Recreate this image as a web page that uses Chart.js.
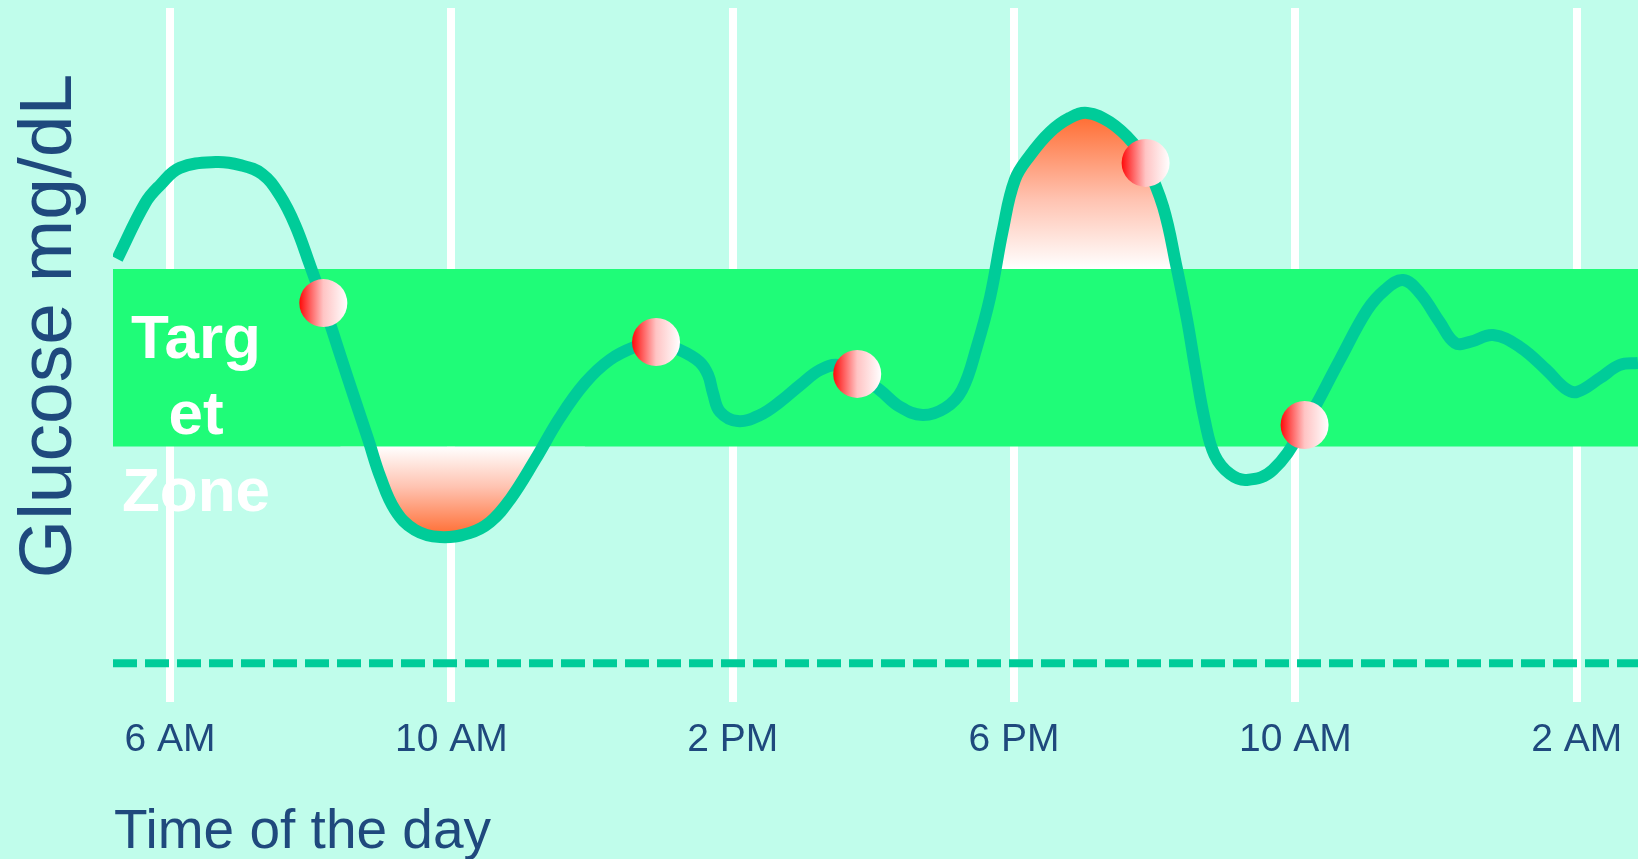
<!DOCTYPE html>
<html>
<head>
<meta charset="utf-8">
<title>Glucose over the day</title>
<script src="https://cdn.jsdelivr.net/npm/chart.js@4.4.1/dist/chart.umd.min.js"></script>
<style>
  html, body { margin: 0; padding: 0; background: #c0fdeb; }
  canvas { display: block; }
</style>
</head>
<body>
<canvas id="glucose" width="1638" height="859"></canvas>
<script>
// Clock hours (6 = 6 AM ... 26 = 2 AM next day) and glucose readings in mg/dL
const times = [
  5.25, 5.65, 5.86, 6.14, 6.65, 7.00, 7.31, 7.56, 7.78, 7.99,
  8.18, 8.42, 8.63, 8.82, 8.99, 9.20, 9.48, 9.84, 10.26, 10.55,
  10.83, 11.19, 11.54, 11.90, 12.25, 12.61, 12.91, 13.25, 13.53, 13.65,
  13.72, 13.82, 14.07, 14.39, 14.67, 14.96, 15.24, 15.50, 15.77, 16.09,
  16.38, 16.70, 17.02, 17.26, 17.47, 17.66, 17.84, 18.01, 18.23, 18.51,
  18.79, 19.04, 19.36, 19.69, 19.87, 20.12, 20.31, 20.46, 20.58, 20.71,
  20.85, 21.07, 21.31, 21.68, 22.13, 22.63, 23.02, 23.27, 23.53, 23.77,
  24.05, 24.27, 24.48, 24.81, 25.19, 25.57, 25.83, 26.00, 26.33, 26.61,
  26.87
];
const glucose = [
  159.6, 179.8, 186.2, 192.4, 194.5, 193.4, 190.2, 182.6, 171.8, 157.4,
  143.7, 125.0, 108.8, 94.4, 81.1, 69.2, 62.0, 59.4, 60.9, 64.8,
  72.8, 87.2, 102.3, 114.9, 123.2, 127.9, 129.7, 126.8, 122.5, 117.8,
  111.3, 104.5, 101.2, 103.4, 108.1, 114.2, 119.6, 121.4, 118.2, 112.4,
  106.3, 103.4, 105.9, 112.4, 127.9, 145.9, 170.0, 188.0, 197.0, 205.3,
  210.4, 212.2, 208.9, 201.4, 194.2, 178.3, 156.7, 137.6, 119.6, 101.6,
  89.0, 82.1, 80.0, 83.6, 99.8, 123.2, 141.2, 148.4, 152.0, 147.3,
  136.9, 129.3, 129.7, 132.2, 127.9, 119.6, 113.1, 111.7, 116.7, 121.4,
  122.1
];

// Readings highlighted with a dot
const dotTimes = [8.18, 12.91, 15.77, 19.87, 22.13];
const dotGlucose = [143.7, 129.7, 118.2, 194.2, 99.8];

// Target zone and the low reference line
const targetLow = 92;
const targetHigh = 156;
const lowLine = 14;

// Excursions outside the target zone that get shaded
const lowSpan = [8.42, 11.90];
const highSpan = [17.26, 20.58];

// Time axis
const tickHours = [6, 10, 14, 18, 22, 26];
const tickLabels = ['6 AM', '10 AM', '2 PM', '6 PM', '10 AM', '2 AM'];
const xMin = 5.19;
const xMax = 26.87;

const zoneLabel = ['Targ', 'et', 'Zone'];

const INK = '#1f497d';
const CURVE = '#00cc99';
const FONT = '"Liberation Sans", Arial, sans-serif';

const points = times.map((t, i) => ({ x: t, y: glucose[i] }));
const inSpan = (span) => points.filter(p => p.x >= span[0] && p.x <= span[1]);
const lowPoints = inSpan(lowSpan);
const highPoints = inSpan(highSpan);

function shade(chart, edgeValue, peakValue) {
  const area = chart.chartArea;
  if (!area) return 'rgba(255,110,60,0.6)';
  const y = chart.scales.y;
  const g = chart.ctx.createLinearGradient(0, y.getPixelForValue(edgeValue), 0, y.getPixelForValue(peakValue));
  g.addColorStop(0, '#ffffff');
  g.addColorStop(0.45, '#ffc2b0');
  g.addColorStop(1, '#ff6a2e');
  return g;
}

function dotFill(c) {
  if (c.type !== 'data' || !c.chart.chartArea) return '#ff6666';
  const px = c.chart.scales.x.getPixelForValue(c.parsed.x);
  const r = 24;
  const g = c.chart.ctx.createLinearGradient(px - r, 0, px + r, 0);
  g.addColorStop(0, '#ff0a0a');
  g.addColorStop(0.5, '#ffc4c4');
  g.addColorStop(1, '#ffffff');
  return g;
}

const textPlugin = {
  id: 'glucoseText',
  afterDatasetsDraw(chart) {
    const ctx = chart.ctx;
    ctx.save();
    // label inside the target zone
    ctx.fillStyle = '#ffffff';
    ctx.font = 'bold 62px ' + FONT;
    ctx.textAlign = 'center';
    ctx.textBaseline = 'alphabetic';
    const base = [358, 434, 511];
    zoneLabel.forEach((s, i) => ctx.fillText(s, 196, base[i]));
    ctx.restore();
  },
  afterDraw(chart) {
    const ctx = chart.ctx;
    ctx.save();
    ctx.fillStyle = INK;
    ctx.textBaseline = 'alphabetic';
    // horizontal axis title
    ctx.font = '55px ' + FONT;
    ctx.textAlign = 'left';
    ctx.fillText('Time of the day', 114, 848);
    // vertical axis title
    ctx.font = '75px ' + FONT;
    ctx.textAlign = 'center';
    ctx.translate(71, 326);
    ctx.rotate(-Math.PI / 2);
    ctx.fillText('Glucose mg/dL', 0, 0);
    ctx.restore();
  }
};

new Chart(document.getElementById('glucose'), {
  type: 'line',
  data: {
    datasets: [
      {
        label: 'Readings',
        data: dotTimes.map((t, i) => ({ x: t, y: dotGlucose[i] })),
        showLine: false,
        pointRadius: 24,
        pointHoverRadius: 24,
        pointBorderWidth: 0,
        pointBackgroundColor: dotFill,
        order: 0
      },
      {
        label: 'Glucose',
        data: points,
        borderColor: CURVE,
        borderWidth: 12,
        borderCapStyle: 'butt',
        borderJoinStyle: 'round',
        tension: 0.4,
        pointRadius: 0,
        fill: false,
        order: 1
      },
      {
        label: 'High',
        data: highPoints,
        borderWidth: 0,
        pointRadius: 0,
        tension: 0.4,
        backgroundColor: (c) => shade(c.chart, targetHigh, Math.max(...highPoints.map(p => p.y))),
        fill: { target: { value: targetHigh }, below: 'rgba(0,0,0,0)' },
        order: 2
      },
      {
        label: 'Low',
        data: lowPoints,
        borderWidth: 0,
        pointRadius: 0,
        tension: 0.4,
        backgroundColor: (c) => shade(c.chart, targetLow, Math.min(...lowPoints.map(p => p.y))),
        fill: { target: { value: targetLow }, above: 'rgba(0,0,0,0)' },
        order: 2
      },
      {
        label: 'Low line',
        data: [{ x: xMin, y: lowLine }, { x: xMax, y: lowLine }],
        borderColor: CURVE,
        borderWidth: 8,
        borderDash: [24, 8],
        borderCapStyle: 'butt',
        pointRadius: 0,
        fill: false,
        order: 3
      },
      {
        label: 'Target zone',
        data: [{ x: xMin, y: targetHigh }, { x: xMax, y: targetHigh }],
        borderWidth: 0,
        pointRadius: 0,
        backgroundColor: '#1ffc78',
        fill: { target: { value: targetLow } },
        order: 4
      }
    ]
  },
  options: {
    responsive: false,
    devicePixelRatio: 1,
    animation: false,
    events: [],
    layout: { autoPadding: false, padding: { left: 113, top: 8, right: 0, bottom: 0 } },
    plugins: { legend: { display: false }, tooltip: { enabled: false } },
    scales: {
      x: {
        type: 'linear',
        min: xMin,
        max: xMax,
        afterBuildTicks: (scale) => { scale.ticks = tickHours.map(v => ({ value: v })); },
        afterFit: (scale) => {
          scale.height = 157;
          scale.paddingLeft = 0;
          scale.paddingRight = 0;
        },
        ticks: {
          autoSkip: false,
          maxRotation: 0,
          padding: 15,
          color: INK,
          font: { family: FONT, size: 39 },
          callback: (v, i) => tickLabels[i]
        },
        grid: { color: '#ffffff', lineWidth: 8, drawTicks: false },
        border: { display: false }
      },
      y: {
        display: false,
        min: 0,
        max: 250
      }
    }
  },
  plugins: [textPlugin]
});
</script>
</body>
</html>
